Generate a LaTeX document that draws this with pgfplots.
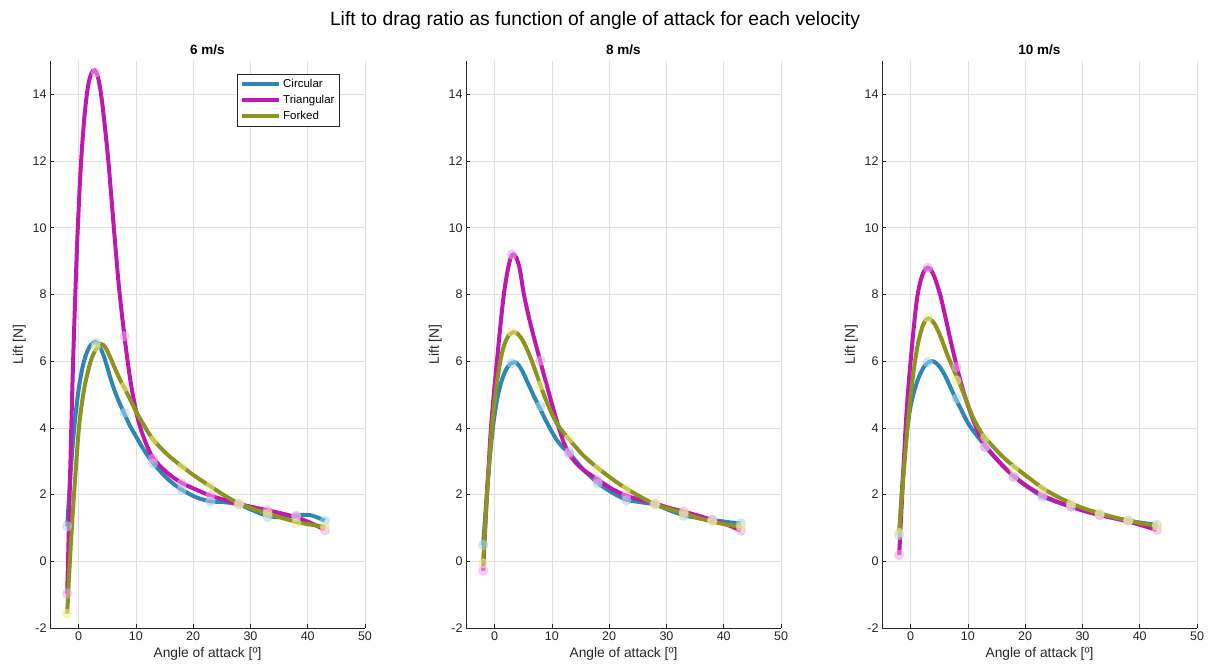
\documentclass[border=0pt]{standalone}
\usepackage{fontspec}
\setmainfont{Liberation Sans}
\usepackage{pgfplots}
\pgfplotsset{compat=1.18}
\definecolor{cC}{HTML}{2E87B3}
\definecolor{cT}{HTML}{BE18AE}
\definecolor{cF}{HTML}{8E921F}
\definecolor{mC}{HTML}{A6D6EE}
\definecolor{mT}{HTML}{F2A2EA}
\definecolor{mF}{HTML}{EEF08E}
\definecolor{axc}{HTML}{262626}
\pgfplotsset{
 mystyle/.style={
  scale only axis, width=315pt, height=567pt,
  xmin=-5, xmax=50, ymin=-2, ymax=15,
  xtick={0,10,...,50}, ytick={-2,0,...,14},
  axis x line*=bottom, axis y line*=left,
  axis line style={axc, line width=0.6pt, -},
  tick align=inside, major tick length=4pt,
  tick style={axc, line width=0.6pt},
  grid=major, major grid style={draw=black!12, line width=0.6pt},
  clip mode=individual,
  /pgf/number format/assume math mode=true,
  tick label style={font=\fontsize{12.5}{14}\selectfont, text=axc},
  label style={font=\fontsize{13.8}{16}\selectfont, text=axc},
  title style={font=\fontsize{13.5}{16}\selectfont\bfseries, yshift=-3pt},
  xlabel={Angle of attack [º]}, ylabel={Lift [N]},
  legend image code/.code={\draw[#1, line width=3.8pt] (0pt,0pt) -- (37pt,0pt);},
 },
 lC/.style={cC, line width=4pt, smooth, tension=0.55, no marks},
 lT/.style={cT, line width=4pt, smooth, tension=0.55, no marks},
 lF/.style={cF, line width=4pt, smooth, tension=0.55, no marks},
 pC/.style={mC, only marks, mark=*, mark size=4.8pt, opacity=0.55, forget plot},
 pT/.style={mT, only marks, mark=*, mark size=4.8pt, opacity=0.55, forget plot},
 pF/.style={mF, only marks, mark=*, mark size=4.8pt, opacity=0.55, forget plot},
}
\begin{document}
\begin{tikzpicture}
% ---------------- 6 m/s
\begin{axis}[mystyle, at={(50pt,43pt)}, anchor=south west, title={6 m/s},
  legend style={at={(0.92,0.977)}, anchor=north east, draw=axc, line width=0.6pt, fill=white,
   font=\fontsize{11.5}{13}\selectfont, cells={anchor=west}, row sep=2.2pt, inner xsep=3pt, inner ysep=3pt}]
\addplot[lC] coordinates {(-2,1.05)(-1.5,2.4)(-1,3.55)(-0.5,4.45)(0,5.15)(0.6,5.75)(1.3,6.2)(2.1,6.48)(2.9,6.57)(3.6,6.45)(4.4,6.15)(5.2,5.7)(6.0,5.25)(7.0,4.8)(8,4.42)(9,4.05)(10,3.75)(11,3.45)(12,3.18)(13,2.95)(14.5,2.65)(16,2.4)(18,2.15)(20.5,1.92)(23,1.8)(25.5,1.77)(28,1.7)(30.5,1.52)(33,1.36)(35.5,1.32)(38,1.37)(40.5,1.38)(43,1.22)};
\addlegendentry{Circular}
\addplot[lT] coordinates {(-2,-0.97)(-1.75,0.7)(-1.5,2.5)(-1.25,4.2)(-1.0,5.8)(-0.6,7.9)(-0.17,9.9)(0.4,11.9)(1.0,13.3)(1.6,14.2)(2.2,14.62)(2.8,14.72)(3.4,14.5)(4.0,13.9)(4.6,13.0)(5.24,11.9)(6.1,10.1)(7.0,8.3)(8.0,6.75)(9.1,5.35)(10.3,4.3)(11.5,3.65)(13,3.1)(15.5,2.65)(18,2.35)(20.5,2.15)(23,1.97)(25.5,1.84)(28,1.72)(30.5,1.62)(33,1.53)(35.5,1.43)(38,1.32)(40.5,1.15)(43,0.95)};
\addlegendentry{Triangular}
\addplot[lF] coordinates {(-2,-1.57)(-1.5,0.1)(-1,1.5)(-0.5,2.75)(0,3.9)(0.5,4.65)(1,5.2)(1.5,5.6)(2.2,6.05)(3,6.35)(3.9,6.52)(4.7,6.4)(5.5,6.12)(6.5,5.72)(7.5,5.35)(8,5.2)(9,4.85)(10,4.5)(11.5,4.05)(13,3.65)(15.5,3.2)(18,2.85)(20.5,2.53)(23,2.25)(25.5,1.97)(28,1.73)(30.5,1.57)(33,1.43)(35.5,1.3)(38,1.18)(40.5,1.1)(43,1.03)};
\addlegendentry{Forked}
\addplot[pC] coordinates {(-2,1.05)(3,6.55)(8,4.45)(13,2.93)(18,2.15)(23,1.8)(28,1.72)(33,1.33)(38,1.37)(43,1.21)};
\addplot[pT] coordinates {(-2,-0.97)(3,14.65)(8,6.75)(13,3.08)(18,2.33)(23,1.97)(28,1.72)(33,1.53)(38,1.33)(43,0.93)};
\addplot[pF] coordinates {(-2,-1.57)(3,6.43)(8,5.23)(13,3.63)(18,2.83)(23,2.25)(28,1.71)(33,1.43)(38,1.15)(43,1.03)};
\end{axis}
% ---------------- 8 m/s
\begin{axis}[mystyle, at={(466pt,43pt)}, anchor=south west, title={8 m/s}]
\addplot[lC] coordinates {(-2,0.49)(-1.5,1.7)(-1,2.8)(-0.5,3.7)(0,4.4)(0.6,5.0)(1.3,5.45)(2.1,5.78)(2.9,5.94)(3.5,5.97)(4.2,5.88)(5.0,5.65)(6.0,5.27)(7.0,4.9)(8,4.55)(9,4.2)(10,3.88)(11,3.6)(12,3.4)(13,3.25)(15.5,2.75)(18,2.35)(20.5,2.06)(23,1.85)(25.5,1.77)(28,1.7)(30.5,1.53)(33,1.38)(35.5,1.3)(38,1.24)(40.5,1.18)(43,1.13)};
\addplot[lT] coordinates {(-2,-0.28)(-1.67,0.9)(-1.34,2.0)(-1.0,3.0)(-0.64,4.0)(-0.1,5.1)(0.4,6.0)(1.0,7.05)(1.57,7.95)(2.2,8.65)(2.8,9.1)(3.2,9.2)(3.8,9.1)(4.4,8.75)(5.06,8.05)(6.0,7.3)(7.0,6.62)(8,5.98)(9,5.34)(10,4.72)(11,4.12)(12,3.6)(13,3.22)(14.2,2.95)(15.5,2.74)(18,2.45)(20.5,2.17)(23,1.97)(25.5,1.84)(28,1.73)(30.5,1.6)(33,1.49)(35.5,1.37)(38,1.24)(40.5,1.1)(43,0.92)};
\addplot[lF] coordinates {(-2,-0.06)(-1.67,1.0)(-1.34,2.0)(-0.9,3.05)(-0.47,4.0)(0.2,5.1)(0.99,6.0)(1.7,6.5)(2.5,6.78)(3.3,6.87)(4.0,6.82)(4.8,6.65)(5.6,6.38)(6.5,6.0)(7.3,5.62)(8,5.27)(9,4.82)(10,4.42)(11,4.1)(12,3.86)(13,3.66)(15.5,3.17)(18,2.8)(20.5,2.47)(23,2.18)(25.5,1.93)(28,1.71)(30.5,1.57)(33,1.44)(35.5,1.3)(38,1.19)(40.5,1.1)(43,1.04)};
\addplot[pC] coordinates {(-2,0.49)(3,5.94)(8,4.65)(13,3.28)(18,2.33)(23,1.83)(28,1.71)(33,1.36)(38,1.24)(43,1.14)};
\addplot[pT] coordinates {(-2,-0.28)(3,9.2)(8,6.02)(13,3.23)(18,2.43)(23,1.98)(28,1.73)(33,1.49)(38,1.24)(43,0.92)};
\addplot[pF] coordinates {(-2,-0.06)(3,6.87)(8,5.27)(13,3.68)(18,2.78)(23,2.18)(28,1.71)(33,1.44)(38,1.19)(43,1.04)};
\end{axis}
% ---------------- 10 m/s
\begin{axis}[mystyle, at={(882pt,43pt)}, anchor=south west, title={10 m/s}]
\addplot[lC] coordinates {(-2,0.79)(-1.5,2.2)(-1,3.3)(-0.5,4.1)(0,4.65)(0.7,5.15)(1.5,5.55)(2.3,5.82)(3.0,5.95)(3.8,6.0)(4.6,5.92)(5.4,5.75)(6.2,5.5)(7.0,5.2)(7.8,4.9)(8.8,4.55)(10,4.15)(11.2,3.85)(12.5,3.57)(14,3.25)(16,2.88)(18,2.56)(20.5,2.22)(23,1.95)(25.5,1.78)(28,1.64)(30.5,1.5)(33,1.39)(35.5,1.3)(38,1.22)(40.5,1.15)(43,1.09)};
\addplot[lT] coordinates {(-2,0.19)(-1.47,2.0)(-0.88,4.0)(-0.4,5.2)(0,6.0)(0.6,7.1)(1.18,7.95)(1.8,8.45)(2.4,8.72)(2.94,8.8)(3.5,8.75)(4.1,8.55)(4.7,8.25)(5.3,7.9)(6.1,7.3)(7.0,6.6)(8,5.88)(9,5.22)(10,4.68)(11,4.2)(12,3.8)(13.2,3.43)(16,2.88)(18,2.55)(20.5,2.23)(23,1.98)(25.5,1.79)(28,1.64)(30.5,1.5)(33,1.39)(35.5,1.29)(38,1.19)(40.5,1.07)(43,0.94)};
\addplot[lF] coordinates {(-2,0.86)(-1.5,2.05)(-1,3.1)(-0.5,4.1)(0,4.95)(0.6,5.8)(1.2,6.45)(1.9,6.95)(2.5,7.2)(3.1,7.28)(3.7,7.22)(4.3,7.08)(4.9,6.87)(5.55,6.59)(6.5,6.15)(7.5,5.75)(8.44,5.38)(9.2,5.05)(10,4.68)(11,4.27)(12,3.95)(13,3.7)(16,3.15)(18,2.85)(20.5,2.52)(23,2.2)(25.5,1.95)(28,1.74)(30.5,1.57)(33,1.44)(35.5,1.32)(38,1.22)(40.5,1.13)(43,1.06)};
\addplot[pC] coordinates {(-2,0.79)(3,5.97)(8,4.88)(13,3.43)(18,2.53)(23,1.93)(28,1.64)(33,1.39)(38,1.22)(43,1.09)};
\addplot[pT] coordinates {(-2,0.19)(3,8.8)(8,5.82)(13,3.43)(18,2.53)(23,1.98)(28,1.64)(33,1.39)(38,1.22)(43,0.94)};
\addplot[pF] coordinates {(-2,0.86)(3,7.3)(8,5.42)(13,3.71)(18,2.78)(23,2.18)(28,1.73)(33,1.44)(38,1.22)(43,1.06)};
\end{axis}
\node[font=\fontsize{19.3}{22}\selectfont, text=black] at (595pt,650pt) {Lift to drag ratio as function of angle of attack for each velocity};
\pgfresetboundingbox
\useasboundingbox (0,0) rectangle (1219pt,671pt);
\end{tikzpicture}
\end{document}
